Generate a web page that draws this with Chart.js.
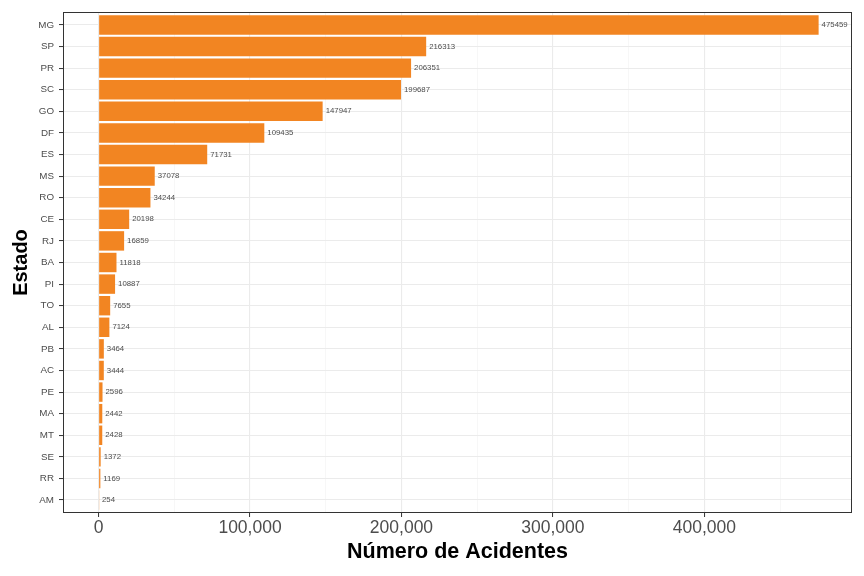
<!DOCTYPE html>
<html lang="pt">
<head>
  <meta charset="UTF-8" />
  <title>Acidentes por Estado</title>
  <script src="https://cdn.jsdelivr.net/npm/chart.js@4.4.1/dist/chart.umd.min.js"></script>
  <style>
    html, body { margin: 0; padding: 0; background: #fff; }
    #wrap { width: 864px; height: 576px; }
  </style>
</head>
<body>
  <div id="wrap"><canvas id="chart" width="864" height="576"></canvas></div>
  <script>
    // Estados, ordenados do maior para o menor
    const estados = ["MG", "SP", "PR", "SC", "GO", "DF", "ES", "MS", "RO", "CE", "RJ",
                     "BA", "PI", "TO", "AL", "PB", "AC", "PE", "MA", "MT", "SE", "RR", "AM"];
    const acidentes = [475459, 216313, 206351, 199687, 147947, 109435, 71731, 37078, 34244, 20198, 16859,
                       11818, 10887, 7655, 7124, 3464, 3444, 2596, 2442, 2428, 1372, 1169, 254];
    // linhas de grade do eixo x (as de 100 mil têm rótulo)
    const xTicks = [0, 50000, 100000, 150000, 200000, 250000, 300000, 350000, 400000, 450000];

    const FONT = "'Liberation Sans', Arial, sans-serif";
    const isMajor = (v) => v % 100000 === 0;

    // desenha a borda do painel e os rótulos de valor
    const panelPlugin = {
      id: "panel",
      afterDatasetsDraw(chart) {
        const { ctx, chartArea: a } = chart;
        const meta = chart.getDatasetMeta(0);
        ctx.save();
        ctx.font = "7.8px " + FONT;
        ctx.fillStyle = "#4D4D4D";
        ctx.textBaseline = "middle";
        ctx.textAlign = "left";
        meta.data.forEach((bar, i) => {
          ctx.fillText(String(acidentes[i]), bar.x + 3, bar.y);
        });
        ctx.strokeStyle = "#333333";
        ctx.lineWidth = 1;
        ctx.strokeRect(a.left + 0.5, a.top + 0.5, a.right - a.left - 1, a.bottom - a.top - 1);
        ctx.restore();
      }
    };

    const ctx = document.getElementById("chart").getContext("2d");
    new Chart(ctx, {
      type: "bar",
      data: {
        datasets: [{
          data: acidentes.map((v, i) => ({ x: v, y: i })),
          backgroundColor: "#F28522",
          borderWidth: 0,
          barPercentage: 0.9,
          categoryPercentage: 1.0
        }]
      },
      options: {
        indexAxis: "y",
        responsive: false,
        animation: false,
        layout: { padding: { left: 5, right: 12, top: 12, bottom: 5 } },
        plugins: {
          legend: { display: false },
          tooltip: { enabled: false }
        },
        scales: {
          x: {
            type: "linear",
            min: -23500,
            max: 497500,
            afterFit: (s) => { s.height = 58; },
            afterBuildTicks: (s) => { s.ticks = xTicks.map((v) => ({ value: v })); },
            border: { display: false },
            grid: {
              color: (c) => (c.tick && isMajor(c.tick.value)) ? "#EBEBEB" : "#F2F2F2",
              lineWidth: (c) => (c.tick && isMajor(c.tick.value)) ? 1.1 : 0.6,
              tickColor: (c) => (c.tick && isMajor(c.tick.value)) ? "#333333" : "rgba(0,0,0,0)",
              tickLength: 4,
              tickWidth: 1
            },
            ticks: {
              autoSkip: false,
              maxRotation: 0,
              padding: 1,
              color: "#4D4D4D",
              font: { family: FONT, size: 17.5 },
              callback: (v) => isMajor(v) ? v.toLocaleString("en-US") : ""
            },
            title: {
              display: true,
              text: "Número de Acidentes",
              color: "#000",
              font: { family: FONT, size: 21.5, weight: "bold" },
              padding: { top: 0, bottom: 6 }
            }
          },
          y: {
            type: "linear",
            reverse: true,
            offset: false,
            // margem de 0,6 categoria em cima e embaixo, como no original
            min: -0.6,
            max: estados.length - 1 + 0.6,
            afterBuildTicks: (s) => { s.ticks = estados.map((_, i) => ({ value: i })); },
            afterFit: (s) => { s.width = 58; },
            border: { display: false },
            grid: {
              offset: false,
              color: "#EBEBEB",
              lineWidth: 1.1,
              tickColor: "#333333",
              tickLength: 4,
              tickWidth: 1
            },
            ticks: {
              autoSkip: false,
              padding: 5,
              color: "#4D4D4D",
              font: { family: FONT, size: 9.8 },
              callback: (v) => estados[v]
            },
            title: {
              display: true,
              text: "Estado",
              color: "#000",
              font: { family: FONT, size: 20, weight: "bold" },
              padding: { top: 4, bottom: 0 }
            }
          }
        }
      },
      plugins: [panelPlugin]
    });
  </script>
</body>
</html>
